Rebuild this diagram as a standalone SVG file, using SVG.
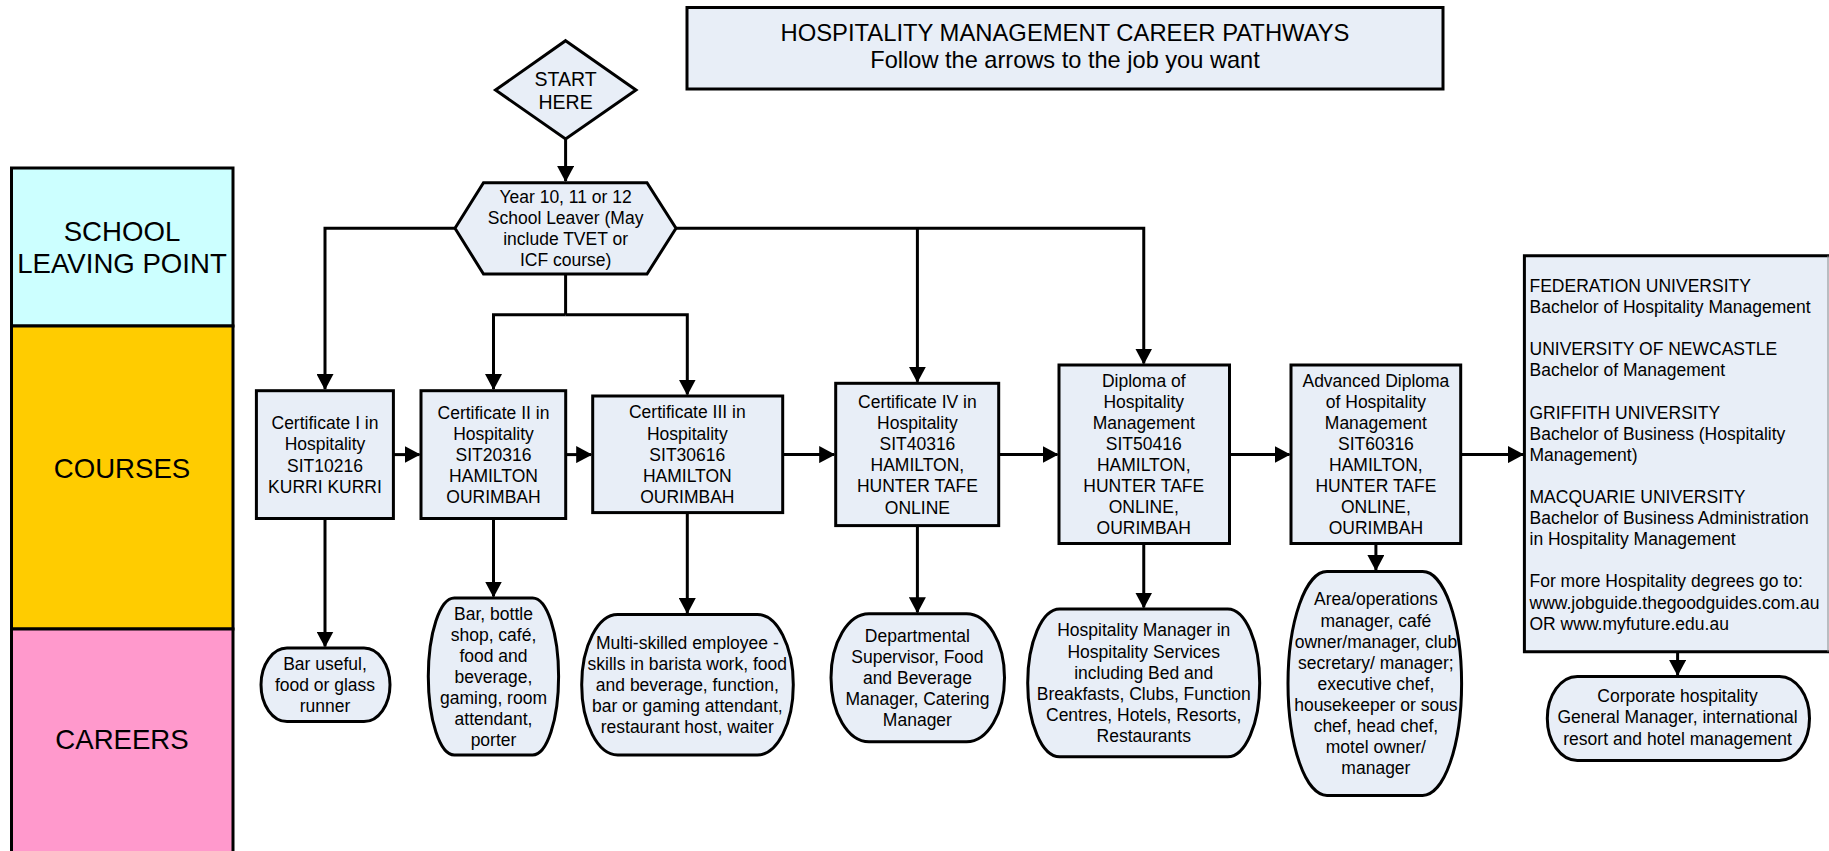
<svg xmlns="http://www.w3.org/2000/svg" width="1829" height="851" viewBox="0 0 1829 851">
<defs>
<style>
.n{fill:#E8EEF7;stroke:#000;stroke-width:3}
.t{font-family:"Liberation Sans",Arial,sans-serif;font-size:17.5px;fill:#000;text-anchor:middle}
.tl{font-family:"Liberation Sans",Arial,sans-serif;font-size:17.5px;fill:#000}
.big{font-family:"Liberation Sans",Arial,sans-serif;font-size:27.6px;fill:#000;text-anchor:middle}
.c{fill:none;stroke:#000;stroke-width:3;stroke-linejoin:miter}
.a{marker-end:url(#ah)}
</style>
<marker id="ah" viewBox="0 0 16 17" markerUnits="userSpaceOnUse" markerWidth="16" markerHeight="17" refX="15" refY="8.5" orient="auto">
<path d="M0,0 L16,8.5 L0,17 z" fill="#000"/>
</marker>
</defs>
<rect width="1829" height="851" fill="#fff"/>

<g id="lane-school">
<rect x="11.5" y="168" width="221.5" height="158" fill="#CCFFFF" stroke="#000" stroke-width="3"/>
<text class="big" x="122" y="240.5">SCHOOL</text>
<text class="big" x="122" y="272.5">LEAVING POINT</text>
</g>
<g id="lane-courses">
<rect x="11.5" y="326" width="221.5" height="303" fill="#FFCC00" stroke="#000" stroke-width="3"/>
<text class="big" x="122" y="477.5">COURSES</text>
</g>
<g id="lane-careers">
<rect x="11.5" y="629" width="221.5" height="226" fill="#FF99CC" stroke="#000" stroke-width="3"/>
<text class="big" x="122" y="749">CAREERS</text>
</g>

<g id="title">
<rect class="n" x="687" y="7.5" width="756" height="81.5"/>
<text class="t" x="1065" y="40.7" style="font-size:23.8px">HOSPITALITY MANAGEMENT CAREER PATHWAYS</text>
<text class="t" x="1065" y="68.3" style="font-size:23.6px">Follow the arrows to the job you want</text>
</g>

<g id="connectors">
<path class="c a" d="M565.6,139 V181"/>
<path class="c a" d="M455,228.3 H325 V389"/>
<path class="c a" d="M676,228.3 H1143.75 V363.5"/>
<path class="c a" d="M917.4,228.3 V381.8"/>
<path class="c" d="M565.6,274 V314.8"/>
<path class="c a" d="M565.6,314.8 H493.5 V389"/>
<path class="c a" d="M565.6,314.8 H687.3 V394.5"/>
<path class="c a" d="M393.4,454.6 H419.5"/>
<path class="c a" d="M565.7,454.6 H591.2"/>
<path class="c a" d="M782.7,454.6 H834.2"/>
<path class="c a" d="M998.7,454.6 H1057.5"/>
<path class="c a" d="M1229.5,454.6 H1289.5"/>
<path class="c a" d="M1460.7,454.6 H1523"/>
<path class="c a" d="M325,518.5 V646.5"/>
<path class="c a" d="M493.5,518.5 V596.5"/>
<path class="c a" d="M687.3,512.6 V613"/>
<path class="c a" d="M917.4,525.6 V612.3"/>
<path class="c a" d="M1143.75,543.5 V607.5"/>
<path class="c a" d="M1375.9,543.5 V570"/>
<path class="c a" d="M1677.6,651.7 V675"/>
</g>

<g id="start">
<polygon class="n" points="565.6,40.7 636,90 565.6,139 495.5,90"/>
<text class="t" x="565.6" y="86" style="font-size:19.5px">START</text>
<text class="t" x="565.6" y="109.3" style="font-size:19.5px">HERE</text>
</g>

<g id="school-leaver">
<polygon class="n" points="455,228.3 483.5,182.7 647,182.7 676,228.3 647,274 483.5,274"/>
<text class="t" x="565.6" y="203.1">Year 10, 11 or 12</text>
<text class="t" x="565.6" y="224.2">School Leaver (May</text>
<text class="t" x="565.6" y="245.3">include TVET or</text>
<text class="t" x="565.6" y="266.4">ICF course)</text>
</g>

<g id="cert1">
<rect class="n" x="256.4" y="390.7" width="137" height="127.8"/>
<text class="t" x="325" y="429.3">Certificate I in</text>
<text class="t" x="325" y="450.4">Hospitality</text>
<text class="t" x="325" y="471.5">SIT10216</text>
<text class="t" x="325" y="492.6">KURRI KURRI</text>
</g>

<g id="cert2">
<rect class="n" x="421" y="390.7" width="144.7" height="127.8"/>
<text class="t" x="493.5" y="418.7">Certificate II in</text>
<text class="t" x="493.5" y="439.8">Hospitality</text>
<text class="t" x="493.5" y="460.9">SIT20316</text>
<text class="t" x="493.5" y="482">HAMILTON</text>
<text class="t" x="493.5" y="503.1">OURIMBAH</text>
</g>

<g id="cert3">
<rect class="n" x="592.7" y="396" width="190" height="116.6"/>
<text class="t" x="687.3" y="418.4">Certificate III in</text>
<text class="t" x="687.3" y="439.5">Hospitality</text>
<text class="t" x="687.3" y="460.6">SIT30616</text>
<text class="t" x="687.3" y="481.7">HAMILTON</text>
<text class="t" x="687.3" y="502.8">OURIMBAH</text>
</g>

<g id="cert4">
<rect class="n" x="835.7" y="383.3" width="163" height="142.3"/>
<text class="t" x="917.4" y="408">Certificate IV in</text>
<text class="t" x="917.4" y="429.1">Hospitality</text>
<text class="t" x="917.4" y="450.2">SIT40316</text>
<text class="t" x="917.4" y="471.3">HAMILTON,</text>
<text class="t" x="917.4" y="492.4">HUNTER TAFE</text>
<text class="t" x="917.4" y="513.5">ONLINE</text>
</g>

<g id="diploma">
<rect class="n" x="1059" y="365" width="170.5" height="178.5"/>
<text class="t" x="1143.75" y="386.7">Diploma of</text>
<text class="t" x="1143.75" y="407.8">Hospitality</text>
<text class="t" x="1143.75" y="428.9">Management</text>
<text class="t" x="1143.75" y="450">SIT50416</text>
<text class="t" x="1143.75" y="471.1">HAMILTON,</text>
<text class="t" x="1143.75" y="492.2">HUNTER TAFE</text>
<text class="t" x="1143.75" y="513.3">ONLINE,</text>
<text class="t" x="1143.75" y="534.4">OURIMBAH</text>
</g>

<g id="adv-diploma">
<rect class="n" x="1291" y="365" width="169.7" height="178.5"/>
<text class="t" x="1375.9" y="386.7">Advanced Diploma</text>
<text class="t" x="1375.9" y="407.8">of Hospitality</text>
<text class="t" x="1375.9" y="428.9">Management</text>
<text class="t" x="1375.9" y="450">SIT60316</text>
<text class="t" x="1375.9" y="471.1">HAMILTON,</text>
<text class="t" x="1375.9" y="492.2">HUNTER TAFE</text>
<text class="t" x="1375.9" y="513.3">ONLINE,</text>
<text class="t" x="1375.9" y="534.4">OURIMBAH</text>
</g>

<g id="university">
<rect x="1524.4" y="255.7" width="306" height="396" fill="#E8EEF7"/>
<path d="M1830,255.7 H1524.4 V651.7 H1830" fill="none" stroke="#000" stroke-width="3"/>
<line x1="1828" y1="255.7" x2="1828" y2="651.7" stroke="#8a8a8a" stroke-width="1"/>
<text class="tl" x="1529.5" y="292">FEDERATION UNIVERSITY</text>
<text class="tl" x="1529.5" y="313.1">Bachelor of Hospitality Management</text>
<text class="tl" x="1529.5" y="355.3">UNIVERSITY OF NEWCASTLE</text>
<text class="tl" x="1529.5" y="376.4">Bachelor of Management</text>
<text class="tl" x="1529.5" y="418.6">GRIFFITH UNIVERSITY</text>
<text class="tl" x="1529.5" y="439.7">Bachelor of Business (Hospitality</text>
<text class="tl" x="1529.5" y="460.8">Management)</text>
<text class="tl" x="1529.5" y="503">MACQUARIE UNIVERSITY</text>
<text class="tl" x="1529.5" y="524.1">Bachelor of Business Administration</text>
<text class="tl" x="1529.5" y="545.2">in Hospitality Management</text>
<text class="tl" x="1529.5" y="587.4">For more Hospitality degrees go to:</text>
<text class="tl" x="1529.5" y="608.5">www.jobguide.thegoodguides.com.au</text>
<text class="tl" x="1529.5" y="629.6">OR www.myfuture.edu.au</text>
</g>

<g id="career-bar-useful">
<rect class="n" x="261" y="648" width="129" height="73.6" rx="26" ry="36.8"/>
<text class="t" x="325" y="670">Bar useful,</text>
<text class="t" x="325" y="691.1">food or glass</text>
<text class="t" x="325" y="712.2">runner</text>
</g>

<g id="career-bar-bottle">
<rect class="n" x="428.3" y="598" width="130.3" height="157" rx="26" ry="78.5"/>
<text class="t" x="493.5" y="619.5">Bar, bottle</text>
<text class="t" x="493.5" y="640.6">shop, café,</text>
<text class="t" x="493.5" y="661.7">food and</text>
<text class="t" x="493.5" y="682.8">beverage,</text>
<text class="t" x="493.5" y="703.9">gaming, room</text>
<text class="t" x="493.5" y="725">attendant,</text>
<text class="t" x="493.5" y="746.1">porter</text>
</g>

<g id="career-multi">
<rect class="n" x="581.7" y="614.5" width="211.6" height="140.5" rx="36" ry="70.25"/>
<text class="t" x="687.3" y="648.8">Multi-skilled employee -</text>
<text class="t" x="687.3" y="669.9">skills in barista work, food</text>
<text class="t" x="687.3" y="691">and beverage, function,</text>
<text class="t" x="687.3" y="712.1">bar or gaming attendant,</text>
<text class="t" x="687.3" y="733.2">restaurant host, waiter</text>
</g>

<g id="career-dept">
<rect class="n" x="831" y="613.8" width="173.5" height="128" rx="38" ry="64"/>
<text class="t" x="917.4" y="641.8">Departmental</text>
<text class="t" x="917.4" y="662.9">Supervisor, Food</text>
<text class="t" x="917.4" y="684">and Beverage</text>
<text class="t" x="917.4" y="705.1">Manager, Catering</text>
<text class="t" x="917.4" y="726.2">Manager</text>
</g>

<g id="career-hosp-mgr">
<rect class="n" x="1027.7" y="609" width="232" height="147.8" rx="32" ry="73.9"/>
<text class="t" x="1143.75" y="636.4">Hospitality Manager in</text>
<text class="t" x="1143.75" y="657.5">Hospitality Services</text>
<text class="t" x="1143.75" y="678.6">including Bed and</text>
<text class="t" x="1143.75" y="699.7">Breakfasts, Clubs, Function</text>
<text class="t" x="1143.75" y="720.8">Centres, Hotels, Resorts,</text>
<text class="t" x="1143.75" y="741.9">Restaurants</text>
</g>

<g id="career-area-ops">
<rect class="n" x="1288" y="571.6" width="173.6" height="223.8" rx="39" ry="111.9"/>
<text class="t" x="1375.9" y="605.4">Area/operations</text>
<text class="t" x="1375.9" y="626.5">manager, café</text>
<text class="t" x="1375.9" y="647.6">owner/manager, club</text>
<text class="t" x="1375.9" y="668.7">secretary/ manager;</text>
<text class="t" x="1375.9" y="689.8">executive chef,</text>
<text class="t" x="1375.9" y="710.9">housekeeper or sous</text>
<text class="t" x="1375.9" y="732">chef, head chef,</text>
<text class="t" x="1375.9" y="753.1">motel owner/</text>
<text class="t" x="1375.9" y="774.2">manager</text>
</g>

<g id="career-corporate">
<rect class="n" x="1547.3" y="676.4" width="262.2" height="84" rx="30" ry="42"/>
<text class="t" x="1677.6" y="702.3">Corporate hospitality</text>
<text class="t" x="1677.6" y="723.4">General Manager, international</text>
<text class="t" x="1677.6" y="744.5">resort and hotel management</text>
</g>
</svg>
